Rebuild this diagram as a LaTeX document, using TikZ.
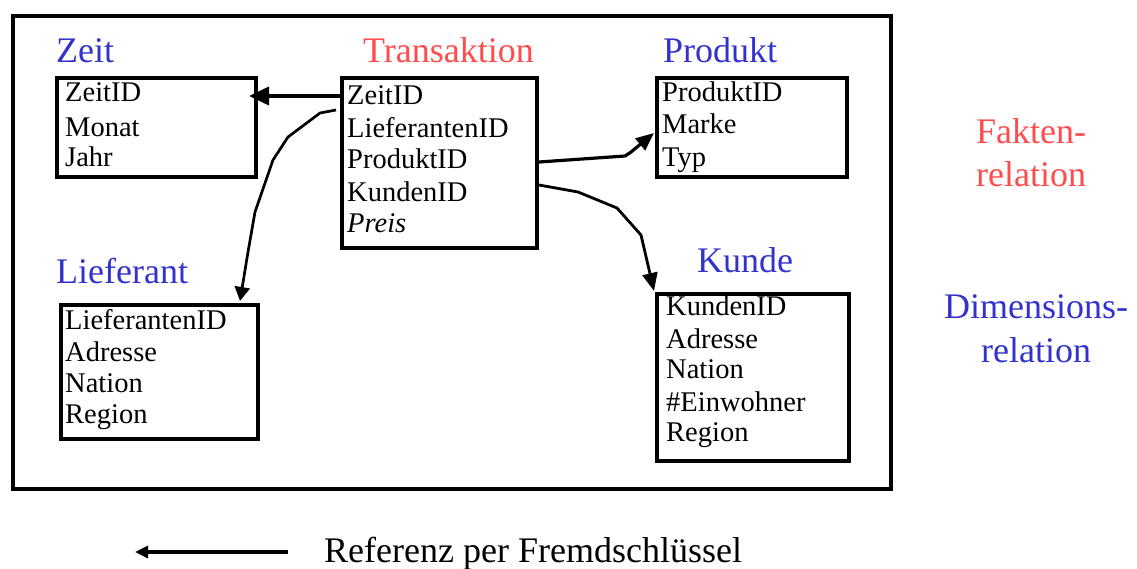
\documentclass[tikz,border=0pt]{standalone}
\usepackage{fontspec}
\setmainfont{Liberation Serif}
\usetikzlibrary{arrows.meta}
\definecolor{dimblue}{RGB}{51,51,204}
\definecolor{factred}{RGB}{255,77,77}
\begin{document}
\begin{tikzpicture}[x=1pt,y=-1pt,
  frame/.style={draw=black,line width=4.2pt,inner sep=0pt,anchor=north west},
  tbox/.style={draw=black,line width=4pt,inner sep=0pt,anchor=north west},
  title/.style={anchor=base west,inner sep=0pt,font=\fontsize{36}{36}\selectfont},
  row/.style={anchor=base west,inner sep=0pt,font=\fontsize{28.5}{28.5}\selectfont},
  side/.style={anchor=base,inner sep=0pt,font=\fontsize{36}{36}\selectfont},
  fk/.style={draw=black,line width=3pt,line join=round},
  bighead/.style={-{Triangle[length=20pt,width=18pt]}},
  midhead/.style={-{Triangle[length=18pt,width=15pt]}},
  smallhead/.style={-{Triangle[length=14pt,width=15pt]}},
]
\useasboundingbox (0,0) rectangle (1137,568);

% outer frame
\node[frame,minimum width=878pt,minimum height=473.5pt] (frame) at (11,13.5) {};

% Zeit
\node[title,text=dimblue] (zeittitle) at (56,62) {Zeit};
\node[tbox,minimum width=199pt,minimum height=99pt] (zeit) at (55,76) {};
\node[row] (z1) at (65,101) {ZeitID};
\node[row] (z2) at (65,136) {Monat};
\node[row] (z3) at (65,166) {Jahr};

% Transaktion
\node[title,text=factred] (ttitle) at (363,62) {Transaktion};
\node[tbox,minimum width=195pt,minimum height=170pt] (trans) at (340,76) {};
\node[row] (t1) at (347,104) {ZeitID};
\node[row] (t2) at (347,137) {LieferantenID};
\node[row] (t3) at (347,168) {ProduktID};
\node[row] (t4) at (347,201) {KundenID};
\node[row] (t5) at (347,232) {\itshape Preis};

% Produkt
\node[title,text=dimblue] (ptitle) at (663,62) {Produkt};
\node[tbox,minimum width=190pt,minimum height=99pt] (prod) at (655,76) {};
\node[row] (p1) at (662,101) {ProduktID};
\node[row] (p2) at (662,133) {Marke};
\node[row] (p3) at (662,166) {Typ};

% Lieferant
\node[title,text=dimblue] (ltitle) at (56,283) {Lieferant};
\node[tbox,minimum width=197pt,minimum height=134pt] (lief) at (59,303) {};
\node[row] (l1) at (65,329) {LieferantenID};
\node[row] (l2) at (65,361) {Adresse};
\node[row] (l3) at (65,392) {Nation};
\node[row] (l4) at (65,423) {Region};

% Kunde
\node[title,text=dimblue] (ktitle) at (697,272) {Kunde};
\node[tbox,minimum width=192pt,minimum height=167pt] (kunde) at (655,292) {};
\node[row] (k1) at (666,315) {KundenID};
\node[row] (k2) at (666,348) {Adresse};
\node[row] (k3) at (666,378) {Nation};
\node[row] (k4) at (666,411) {\#Einwohner};
\node[row] (k5) at (666,441) {Region};

% side labels
\node[side,text=factred] (fakt1) at (1031,143) {Fakten-};
\node[side,text=factred] (fakt2) at (1031,186) {relation};
\node[side,text=dimblue] (dim1) at (1036,318) {Dimensions-};
\node[side,text=dimblue] (dim2) at (1036,362) {relation};

% connector end points
\coordinate (sZ) at (trans.west |- 0,96);
\coordinate (eZ) at (249,96);
\coordinate (sL) at (336,110);
\coordinate (eL) at (240,301);
\coordinate (sP) at (trans.east |- 0,162);
\coordinate (eP) at (654,133);
\coordinate (sK) at (trans.east |- 0,185);
\coordinate (eK) at (654,291);

\draw[fk,line width=3.8pt,bighead] (sZ) -- (eZ);
\draw[fk,line width=2.7pt,smallhead] (sL) -- (320,113) -- (288,137) -- (273,160) -- (255,212) -- (248,252) -- (eL);
\draw[fk,line width=3.2pt,midhead] (sP) -- (625,156) -- (631,152) -- (eP);
\draw[fk,line width=2.8pt,midhead] (sK) -- (578,192) -- (617,208) -- (641,235) -- (eK);

% legend
\coordinate (lgS) at (288,552);
\coordinate (lgE) at (135,552);
\draw[fk,line width=4pt,-{Triangle[length=13pt,width=12pt]}] (lgS) -- (lgE);
\node[title] (legend) at (324,562) {Referenz per Fremdschlüssel};
\end{tikzpicture}
\end{document}
